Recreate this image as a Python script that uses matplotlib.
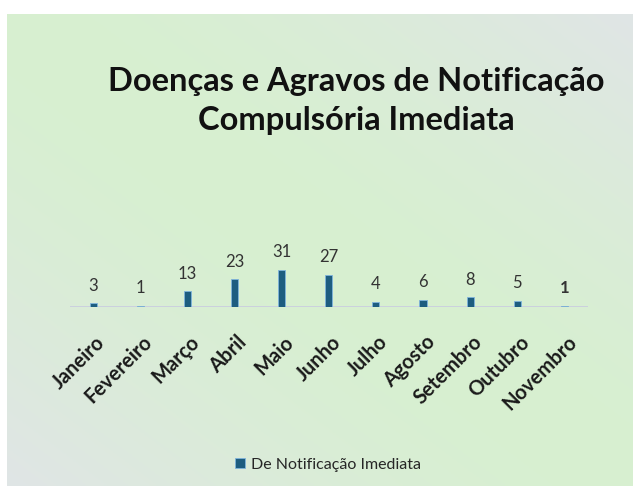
import numpy as np
import matplotlib

matplotlib.use("Agg")
from matplotlib import pyplot as plt
from matplotlib.colors import to_rgb
from matplotlib.patches import Patch
from matplotlib.transforms import ScaledTranslation

months = ["Janeiro", "Fevereiro", "Março", "Abril", "Maio", "Junho",
          "Julho", "Agosto", "Setembro", "Outubro", "Novembro"]
counts = [3, 1, 13, 23, 31, 27, 4, 6, 8, 5, 1]
series_name = "De Notificação Imediata"
title = "Doenças e Agravos de Notificação\nCompulsória Imediata"

plt.rcParams["font.family"] = ["Lato", "DejaVu Sans"]

W, H = 633, 486
fig = plt.figure(figsize=(W / 100, H / 100), dpi=100)
fig.patch.set_facecolor("white")

# background panel with diagonal gradient (green on main diagonal, grey off it)
bg = fig.add_axes([7 / W, 0, 1 - 7 / W, 1 - 14 / H])
green = np.array(to_rgb("#d7f0d0"))
grey = np.array(to_rgb("#e0e5e6"))
u, v = np.meshgrid(np.linspace(0, 1, 200), np.linspace(0, 1, 160))
t = np.clip(np.abs(u - v) ** 1.5, 0, 1)[..., None]
img = green * (1 - t) + grey * t
bg.imshow(img, aspect="auto", extent=(0, 1, 1, 0))
bg.set_axis_off()

# plot area: 1 unit ~ 1.2 px
base_px = 307
left_px, right_px = 69.5, 588
ax = fig.add_axes([left_px / W, 1 - base_px / H, (right_px - left_px) / W, 48 / H])
ax.patch.set_alpha(0)
x = np.arange(len(months))
ax.bar(x, counts, width=0.15, color="#1d5d80", edgecolor="#7fb4dd", linewidth=0.6, zorder=2)
ax.set_xlim(-0.5, len(months) - 0.5)
ax.set_ylim(0, 40)
ax.axhline(0, color="#c9cbe0", linewidth=1.2, zorder=1)
for s in ax.spines.values():
    s.set_visible(False)
ax.set_yticks([])
ax.set_xticks(x)
ax.set_xticklabels(months, rotation=45, ha="right", va="top", rotation_mode="anchor",
                   fontsize=14.5, fontweight="bold", color="#1a1a1a")
ax.tick_params(axis="x", length=0, pad=18)
shift = ScaledTranslation(2 / 100, 0, fig.dpi_scale_trans)
for lbl in ax.get_xticklabels():
    lbl.set_transform(lbl.get_transform() + shift)

for i, val in enumerate(counts):
    last = i == len(counts) - 1
    ax.annotate(str(val), (i, val), xytext=(0, 7), textcoords="offset points",
                ha="center", va="bottom", fontsize=12, color="#333333",
                fontweight="bold" if last else "normal")

fig.text(356 / W, 1 - 101 / H, title, ha="center", va="center", fontsize=23.5,
         fontweight="bold", color="#111111", linespacing=1.42)

handle = Patch(facecolor="#1d5d80", edgecolor="#7fb4dd", linewidth=0.6)
fig.legend([handle], [series_name], loc="center", bbox_to_anchor=(328 / W, 1 - 465 / H),
           frameon=False, fontsize=11.5, handlelength=0.6, handleheight=0.6,
           handletextpad=0.4, labelcolor="#262626")

fig.savefig("out.png", dpi=100)
